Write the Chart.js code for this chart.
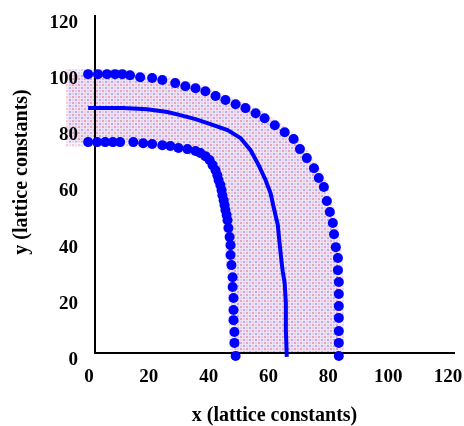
<!doctype html>
<html lang="en">
  <head>
    <meta charset="utf-8">
    <title>Bent waveguide</title>
    <style>
      html, body { margin: 0; padding: 0; background: #fff; }
      #wrap { width: 464px; height: 426px; }
    </style>
  </head>
  <body>
    <div id="wrap"><canvas id="chart"></canvas></div>
    <script src="https://cdn.jsdelivr.net/npm/chart.js@4.4.1/dist/chart.umd.min.js"></script>
    <script>
      // axis ticks (lattice constants)
      const tickValues = [0, 20, 40, 60, 80, 100, 120];

      // outer wall of the guide (dots)
      const outerX = [-2.3, 1.0, 4.0, 6.7, 9.1, 11.7, 15.1, 19.1, 22.5, 26.8, 30.2, 33.6, 36.9, 40.3, 43.6, 47.0, 50.3, 53.7, 56.7, 60.1, 63.4, 66.4, 68.5, 70.8, 73.2, 74.8, 76.5, 77.5, 78.5, 79.5, 79.9, 80.5, 81.2, 81.2, 81.5, 81.5, 81.5, 81.5, 81.5, 81.5, 81.5];
      const outerY = [99.3, 99.3, 99.3, 99.3, 99.3, 98.9, 98.2, 97.9, 97.2, 96.1, 95.0, 94.3, 93.2, 91.5, 90.1, 88.6, 87.2, 85.4, 83.6, 81.1, 78.6, 76.2, 72.6, 69.4, 65.8, 62.3, 59.1, 54.1, 50.2, 46.3, 42.3, 37.7, 33.8, 29.5, 25.3, 21.0, 16.7, 12.5, 7.8, 3.6, -1.1];

      // inner wall of the guide (dots)
      const innerX = [-2.3, 0.7, 3.4, 6.0, 8.4, 12.8, 16.1, 19.1, 22.5, 25.2, 27.9, 30.9, 33.6, 35.2, 36.9, 38.3, 39.3, 40.3, 40.9, 41.3, 41.9, 42.3, 42.6, 43.0, 43.3, 43.6, 44.0, 44.3, 44.6, 45.0, 45.3, 45.3, 45.6, 46.0, 46.0, 46.3, 46.3, 46.3, 46.6, 46.6, 47.0];
      const innerY = [75.1, 75.1, 75.1, 75.1, 75.1, 75.1, 74.7, 74.4, 74.0, 73.7, 73.0, 72.6, 71.9, 71.2, 70.1, 68.7, 66.9, 65.1, 63.3, 61.6, 59.8, 58.0, 56.2, 54.4, 52.7, 50.9, 49.1, 47.3, 44.5, 41.3, 38.4, 34.9, 31.3, 27.0, 23.5, 19.6, 15.3, 11.7, 7.5, 3.6, -1.1];

      // centre line of the guide
      const centerX = [-2.3, 9.4, 17.4, 24.2, 28.5, 33.6, 38.6, 44.3, 48.7, 52.0, 54.7, 57.0, 58.7, 59.7, 61.1, 61.7, 62.4, 62.8, 63.4, 63.8, 63.8, 64.1];
      const centerY = [87.2, 87.2, 86.8, 85.8, 84.7, 83.3, 81.5, 79.4, 76.5, 72.2, 66.9, 61.6, 56.9, 52.0, 45.6, 39.1, 32.0, 28.8, 24.9, 17.8, 8.2, -1.4];

      // field pattern reaches a bit left of the y axis
      const bandLeft = -9;

      const toPoints = (xs, ys) => xs.map((x, i) => ({x: x, y: ys[i]}));

      const makePattern = () => {
        const c = document.createElement('canvas');
        c.width = 6; c.height = 6;
        const g = c.getContext('2d');
        g.fillStyle = '#f0e4f4';
        g.fillRect(0, 0, 6, 6);
        g.fillStyle = '#eca2b8';
        g.fillRect(0, 0, 2, 2);
        g.fillStyle = '#aeb0f2';
        g.fillRect(3, 3, 2, 2);
        g.fillStyle = '#e2cdea';
        g.fillRect(3, 0, 2, 2);
        g.fillRect(0, 3, 2, 2);
        return g.createPattern(c, 'repeat');
      };

      // paints the field band between the outer and inner wall, under the axes
      const bandPlugin = {
        id: 'band',
        beforeDraw(chart) {
          const outer = chart.getDatasetMeta(0).data;
          const inner = chart.getDatasetMeta(1).data;
          const xs = chart.scales.x, ys = chart.scales.y;
          const area = chart.chartArea;
          const ctx = chart.ctx;
          const left = xs.getPixelForValue(bandLeft);
          ctx.save();
          ctx.beginPath();
          ctx.rect(left - 2, 0, area.right - left + 2, area.bottom);
          ctx.clip();
          ctx.beginPath();
          ctx.moveTo(left, ys.getPixelForValue(outerY[0]));
          outer.forEach(p => ctx.lineTo(p.x, p.y));
          for (let i = inner.length - 1; i >= 0; i--) ctx.lineTo(inner[i].x, inner[i].y);
          ctx.lineTo(left, ys.getPixelForValue(innerY[0]));
          ctx.closePath();
          ctx.fillStyle = makePattern();
          ctx.fill();
          ctx.strokeStyle = ctx.fillStyle;
          ctx.lineWidth = 10;
          ctx.lineJoin = 'round';
          ctx.globalAlpha = 0.55;
          ctx.stroke();
          ctx.restore();
        },
        // let the dots sitting on the axes be drawn too
        beforeDatasetsDraw(chart) {
          chart._keptArea = chart.chartArea;
          chart.chartArea = Object.assign({}, chart.chartArea, {
            left: chart.chartArea.left - 20,
            bottom: chart.chartArea.bottom + 20
          });
        },
        afterDatasetsDraw(chart) {
          chart.chartArea = chart._keptArea;
        }
      };

      const tickFont = {family: 'Liberation Serif', size: 19, weight: 'bold'};
      const titleFont = {family: 'Liberation Serif', size: 20, weight: 'bold', lineHeight: 1.2};

      const ctx = document.getElementById('chart').getContext('2d');
      const myChart = new Chart(ctx, {
        type: 'scatter',
        data: {
          datasets: [
            {
              label: 'outer',
              data: toPoints(outerX, outerY),
              backgroundColor: '#0000ff',
              borderColor: '#0000ff',
              pointRadius: 5,
              pointBorderWidth: 0,
              showLine: false,
              clip: false
            },
            {
              label: 'inner',
              data: toPoints(innerX, innerY),
              backgroundColor: '#0000ff',
              borderColor: '#0000ff',
              pointRadius: 5,
              pointBorderWidth: 0,
              showLine: false,
              clip: false
            },
            {
              label: 'center',
              data: toPoints(centerX, centerY),
              borderColor: '#0000ff',
              borderWidth: 4,
              pointRadius: 0,
              showLine: true,
              tension: 0,
              clip: false
            }
          ]
        },
        options: {
          responsive: true,
          maintainAspectRatio: false,
          animation: false,
          layout: {padding: {top: 16, right: 10, left: 0, bottom: 0}},
          plugins: {legend: {display: false}, tooltip: {enabled: false}},
          scales: {
            x: {
              type: 'linear',
              min: 0,
              max: 120,
              afterBuildTicks: s => { s.ticks = tickValues.map(v => ({value: v})); },
              afterFit: s => { s.height = 73; s.paddingLeft = 0; s.paddingRight = 0; },
              grid: {display: true, drawOnChartArea: false, drawTicks: false},
              border: {color: '#000', width: 2},
              ticks: {color: '#000', font: tickFont, padding: 13, labelOffset: -6, maxRotation: 0},
              title: {display: true, text: 'x (lattice constants)', color: '#000', font: {family: 'Liberation Serif', size: 20, weight: 'bold', lineHeight: 1.0}, padding: {top: 0, bottom: 0}}
            },
            y: {
              type: 'linear',
              min: 0,
              max: 120,
              afterBuildTicks: s => { s.ticks = tickValues.map(v => ({value: v})); },
              afterFit: s => { s.width = 95; s.paddingTop = 0; s.paddingBottom = 0; },
              grid: {display: true, drawOnChartArea: false, drawTicks: false},
              border: {color: '#000', width: 2},
              ticks: {color: '#000', font: tickFont, padding: 17, labelOffset: 7},
              title: {display: true, text: '     y (lattice constants)', color: '#000', font: titleFont, padding: {top: 10, bottom: 0}}
            }
          }
        },
        plugins: [bandPlugin]
      });
    </script>
  </body>
</html>
